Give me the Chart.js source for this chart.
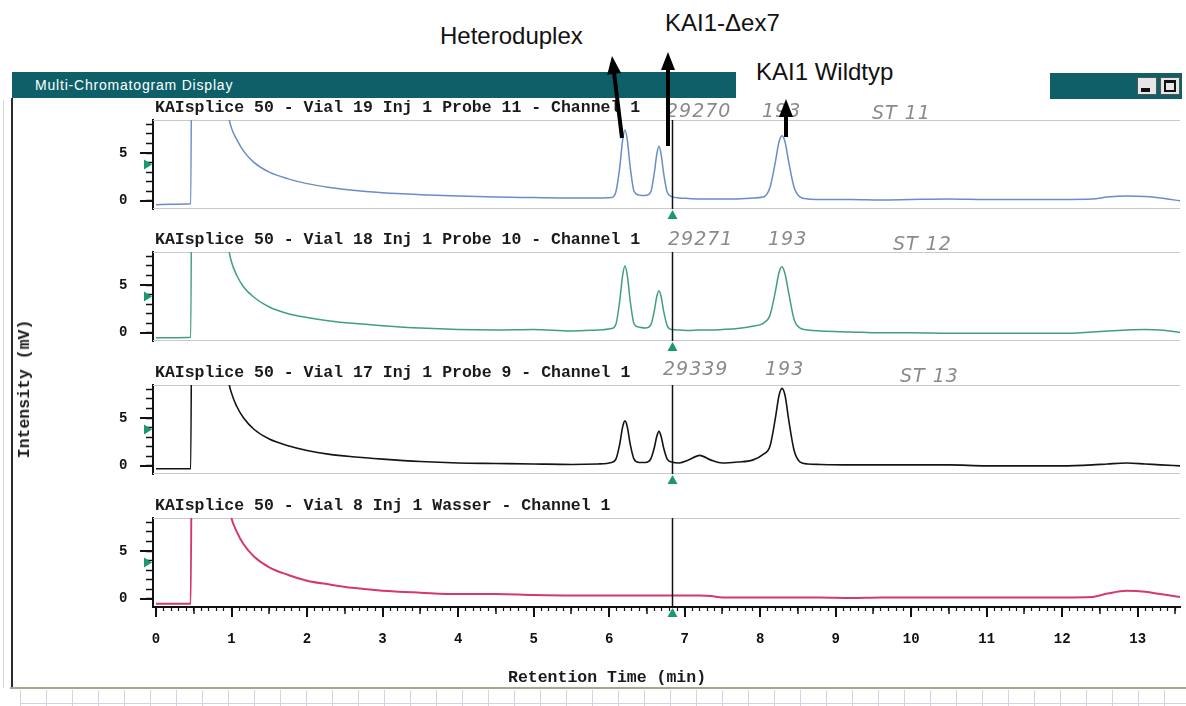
<!DOCTYPE html>
<html lang="de">
<head>
<meta charset="utf-8">
<title>Multi-Chromatogram Display</title>
<script src="https://cdn.jsdelivr.net/npm/chart.js@4.4.1/dist/chart.umd.min.js"></script>
<style>
  html, body { margin: 0; padding: 0; background: #fff; }
  #app { position: relative; width: 1186px; height: 706px; overflow: hidden; background: #fff; }
  #app canvas, #app .txt, #app .box { position: absolute; }
  .mono { font-family: "Liberation Mono", "DejaVu Sans Mono", monospace; font-weight: bold; color: #1a1a1a; font-size: 16.5px; line-height: 20px; white-space: nowrap; }
  .label { font-family: "Liberation Sans", Arial, sans-serif; font-size: 24px; line-height: 28px; color: #111; white-space: nowrap; }
  .hand { font-family: "DejaVu Sans", sans-serif; font-weight: 200; font-style: italic; color: #8a8a8a; font-size: 19px; line-height: 22px; letter-spacing: 1px; white-space: nowrap; }
</style>
</head>
<body>
<div id="app"></div>
<script>
// temps de rétention (min), communs aux quatre chromatogrammes
const retentionTimes = [
  0, 0.2, 0.46, 0.48, 0.75, 0.96, 1.0, 1.07, 1.16, 1.3, 1.5, 1.75, 2.0, 2.3, 2.6, 3.0, 3.5, 4.0, 4.5, 5.0, 5.5, 5.85,
  6.03, 6.09, 6.14, 6.18, 6.21, 6.24, 6.28, 6.33, 6.4, 6.48, 6.55, 6.6, 6.63, 6.66, 6.69, 6.72, 6.77, 6.83, 6.93, 7.05, 7.2, 7.35, 7.5, 7.7, 7.9,
  8.04, 8.13, 8.2, 8.25, 8.29, 8.33, 8.38, 8.45, 8.53, 8.63, 8.8, 9.2, 9.6, 10.0, 10.5, 11.0, 11.5, 12.0, 12.4, 12.6, 12.85, 13.1, 13.3, 13.56
]

// intensités (mV)
const probe11 = [
  -0.4, -0.35, -0.3, 30, 30, 9.0, 7.6, 6.4, 5.2, 4.0, 3.0, 2.3, 1.8, 1.4, 1.1, 0.85, 0.65, 0.5, 0.4, 0.35, 0.3, 0.3,
  0.35, 0.95, 3.45, 6.4, 7.4, 6.4, 3.5, 1.0, 0.6, 0.55, 0.9, 3.0, 4.8, 5.7, 4.8, 3.0, 0.9, 0.45, 0.3, 0.25, 0.2, 0.2, 0.2, 0.2, 0.3,
  0.4, 1.4, 4.0, 6.15, 6.8, 6.15, 4.0, 1.4, 0.4, 0.2, 0.15, 0.15, 0.1, 0.15, 0.2, 0.15, 0.15, 0.15, 0.2, 0.4, 0.5, 0.45, 0.3, 0.0
]
const probe10 = [
  -0.5, -0.5, -0.45, 30, 30, 9.0, 7.4, 6.0, 4.8, 3.7, 2.7, 2.0, 1.6, 1.25, 1.0, 0.75, 0.5, 0.35, 0.3, 0.35, 0.2, 0.3,
  0.45, 0.9, 3.3, 6.05, 7.0, 6.05, 3.3, 0.95, 0.6, 0.5, 0.8, 2.35, 3.75, 4.4, 3.75, 2.35, 0.75, 0.35, 0.3, 0.25, 0.3, 0.3, 0.35, 0.45, 0.7,
  1.0, 1.85, 4.25, 6.3, 6.9, 6.15, 4.1, 1.4, 0.5, 0.3, 0.2, 0.1, 0.0, 0.0, -0.05, -0.05, -0.05, -0.05, 0.1, 0.2, 0.3, 0.35, 0.3, 0.05
]
const probe9 = [
  -0.3, -0.3, -0.3, 30, 30, 9.0, 7.6, 6.2, 5.0, 3.8, 2.8, 2.1, 1.6, 1.2, 0.95, 0.7, 0.45, 0.3, 0.25, 0.2, 0.15, 0.2,
  0.35, 0.7, 2.25, 4.1, 4.7, 4.1, 2.25, 0.7, 0.35, 0.35, 0.7, 1.95, 3.05, 3.6, 3.05, 1.95, 0.7, 0.4, 0.3, 0.6, 1.1, 0.6, 0.3, 0.4, 0.6,
  1.2, 2.05, 4.9, 7.35, 8.1, 7.35, 4.7, 1.6, 0.4, 0.2, 0.15, 0.1, 0.1, 0.1, 0.1, 0.0, 0.0, 0.0, 0.1, 0.2, 0.3, 0.2, 0.1, 0.0
]
const wasser = [
  -0.5, -0.5, -0.5, 30, 30, 10.0, 8.4, 7.0, 5.7, 4.4, 3.3, 2.5, 1.9, 1.5, 1.15, 0.85, 0.65, 0.5, 0.5, 0.4, 0.35, 0.35,
  0.35, 0.35, 0.35, 0.35, 0.35, 0.35, 0.35, 0.35, 0.35, 0.35, 0.35, 0.35, 0.35, 0.35, 0.35, 0.35, 0.35, 0.35, 0.35, 0.35, 0.35, 0.3, 0.15, 0.15, 0.15,
  0.15, 0.15, 0.15, 0.15, 0.15, 0.15, 0.15, 0.15, 0.15, 0.15, 0.15, 0.1, 0.15, 0.15, 0.15, 0.15, 0.15, 0.15, 0.2, 0.55, 0.85, 0.75, 0.5, 0.2
]

const panelTitles = [
  'KAIsplice 50 - Vial 19 Inj 1 Probe 11 - Channel 1',
  'KAIsplice 50 - Vial 18 Inj 1 Probe 10 - Channel 1',
  'KAIsplice 50 - Vial 17 Inj 1 Probe 9 - Channel 1',
  'KAIsplice 50 - Vial 8 Inj 1 Wasser - Channel 1'
]
const sampleNotes = [
  ['29270', '193', 'ST 11'],
  ['29271', '193', 'ST 12'],
  ['29339', '193', 'ST 13']
]
const peakLabels = ['Heteroduplex', 'KAI1-\u0394ex7', 'KAI1 Wildtyp']
const xLabelValues = [0, 1, 2, 3, 4, 5, 6, 7, 8, 9, 10, 11, 12, 13]
const yTickValues = [0, 1, 2, 3, 4, 5, 6, 7, 8]
const yLabelValues = [0, 5]
const cursorTime = 6.83
const markerLevel = 3.8

const app = document.getElementById('app')

const addBox = (left, top, width, height, css) => {
  const div = document.createElement('div')
  div.classList.add('box')
  div.style.cssText += `left:${left}px;top:${top}px;width:${width}px;height:${height}px;${css || ''}`
  app.append(div)
  return div
}

const addText = (text, cls, left, top, css) => {
  const div = document.createElement('div')
  div.classList.add('txt', cls)
  div.textContent = text
  div.style.cssText += `left:${left}px;top:${top}px;${css || ''}`
  app.append(div)
  return div
}

// cadre de la fenêtre
addBox(12, 72, 724, 26, 'background:#0e5f68')
addBox(1050, 73, 132, 26, 'background:#0e5f68')
addBox(1137, 77, 20, 18, 'background:#e6e6e6;border:1px solid #555;box-sizing:border-box')
addBox(1141, 88, 9, 4, 'background:#111')
addBox(1160, 77, 20, 18, 'background:#e6e6e6;border:1px solid #555;box-sizing:border-box')
addBox(1164, 80, 12, 12, 'border:2px solid #111;border-top-width:3px;box-sizing:border-box')
addText('Multi-Chromatogram Display', 'txt', 35, 77, 'font:14px "Liberation Sans",Arial,sans-serif;letter-spacing:0.8px;color:#fff;line-height:16px')
addBox(11, 98, 2, 590, 'background:#2b2b2b')
addBox(3, 100, 1, 588, 'background:#d8d8d8')
addBox(10, 687, 1176, 2, 'background:#aaa492')
addBox(20, 690, 1166, 16, 'background:repeating-linear-gradient(to right,#d6d0e6 0 1px,transparent 1px 26px)')
addBox(20, 703, 1166, 1, 'background:#d6d0e6')

const monoFont = size => ({ family: '"Liberation Mono", "DejaVu Sans Mono", monospace', weight: 'bold', size })

// lignes du cadre, curseur, triangles verts et graduations longues
const decor = {
  id: 'decor',
  beforeDatasetsDraw(chart, args, opts) {
    const { ctx, chartArea: a } = chart
    ctx.save()
    ctx.strokeStyle = '#c9c9c9'
    ctx.lineWidth = 1
    ctx.beginPath()
    ctx.moveTo(a.left, a.top + 0.5)
    ctx.lineTo(a.right, a.top + 0.5)
    if (!opts.axis) {
      ctx.moveTo(a.left, a.bottom - 0.5)
      ctx.lineTo(a.right, a.bottom - 0.5)
    }
    ctx.stroke()
    ctx.restore()
  },
  afterDatasetsDraw(chart, args, opts) {
    const { ctx, chartArea: a, scales: { x, y } } = chart
    ctx.save()
    ctx.strokeStyle = '#111'
    ctx.lineWidth = 2
    yLabelValues.forEach(v => {
      const py = Math.round(y.getPixelForValue(v))
      ctx.beginPath()
      ctx.moveTo(a.left - 13, py)
      ctx.lineTo(a.left, py)
      ctx.stroke()
    })
    if (opts.axis) {
      for (let k = 0; k / 10 <= x.max; k += 5) {
        const px = Math.round(x.getPixelForValue(k / 10))
        ctx.lineWidth = k % 10 === 0 ? 2 : 1.5
        ctx.beginPath()
        ctx.moveTo(px, a.bottom)
        ctx.lineTo(px, a.bottom + (k % 10 === 0 ? 10 : 7))
        ctx.stroke()
      }
    }
    const cx = Math.round(x.getPixelForValue(cursorTime)) + 0.5
    ctx.lineWidth = 1.5
    ctx.beginPath()
    ctx.moveTo(cx, a.top)
    ctx.lineTo(cx, a.bottom)
    ctx.stroke()

    ctx.fillStyle = '#1a9a6c'
    ctx.beginPath()
    ctx.moveTo(cx, a.bottom + 1)
    ctx.lineTo(cx + 5, a.bottom + 10)
    ctx.lineTo(cx - 5, a.bottom + 10)
    ctx.closePath()
    ctx.fill()

    const my = y.getPixelForValue(markerLevel)
    ctx.beginPath()
    ctx.moveTo(a.left - 1, my)
    ctx.lineTo(a.left - 9, my - 5)
    ctx.lineTo(a.left - 9, my + 5)
    ctx.closePath()
    ctx.fill()
    ctx.restore()
  }
}

const panels = [
  { values: probe11, color: '#6b8bcb', width: 1.5 },
  { values: probe10, color: '#3f9f80', width: 1.5 },
  { values: probe9, color: '#141414', width: 1.6 },
  { values: wasser, color: '#d5396b', width: 2 }
]
const panelTops = [120, 252, 385, 518]

panels.forEach((panel, index) => {
  const isLast = index === panels.length - 1
  const top = panelTops[index]

  // un peu plus large que la fenêtre : la marge droite de l'axe X déborde
  const canvas = document.createElement('canvas')
  canvas.width = 1200
  canvas.height = isLast ? 706 - (top - 10) : 113
  canvas.style.left = '0px'
  canvas.style.top = (top - 10) + 'px'
  app.append(canvas)

  new Chart(canvas.getContext('2d'), {
    type: 'line',
    data: {
      datasets: [{
        data: retentionTimes.map((t, i) => ({ x: t, y: panel.values[i] })),
        borderColor: panel.color,
        borderWidth: panel.width,
        pointRadius: 0,
        cubicInterpolationMode: 'monotone',
        fill: false
      }]
    },
    options: {
      responsive: false,
      animation: false,
      devicePixelRatio: 1,
      layout: { padding: { left: 119, right: 20, top: 10, bottom: isLast ? 0 : 14 } },
      plugins: {
        legend: { display: false },
        tooltip: { enabled: false },
        decor: { axis: isLast }
      },
      scales: {
        x: {
          type: 'linear',
          min: -0.04,
          max: 13.56,
          display: isLast,
          afterFit: scale => { if (isLast) scale.height = 99 },
          afterBuildTicks: scale => {
            scale.ticks = Array.from({ length: 136 }, (_, k) => ({ value: k / 10 }))
          },
          grid: { drawOnChartArea: false, tickLength: 4, tickWidth: 1.2, tickColor: '#111' },
          border: { color: '#111', width: 2 },
          ticks: {
            autoSkip: false,
            maxRotation: 0,
            padding: 20,
            color: '#111',
            font: monoFont(14),
            callback: v => xLabelValues.includes(v) ? String(v) : ''
          }
        },
        y: {
          min: -0.85,
          max: 8.45,
          afterFit: scale => { scale.width = 34 },
          afterBuildTicks: scale => {
            scale.ticks = yTickValues.map(v => ({ value: v }))
          },
          grid: { drawOnChartArea: false, tickLength: 7, tickWidth: 1.5, tickColor: '#111' },
          border: { color: '#111', width: 2 },
          ticks: {
            autoSkip: false,
            padding: 0,
            crossAlign: 'far',
            color: '#111',
            font: monoFont(14),
            callback: v => yLabelValues.includes(v) ? String(v) : ''
          }
        }
      }
    },
    plugins: [decor]
  })

  addText(panelTitles[index], 'mono', 155, top - 22)
})

// notes manuscrites à côté des titres
const notePositions = [
  [[666, 99], [762, 99], [872, 101]],
  [[668, 227], [768, 227], [893, 232]],
  [[663, 357], [765, 357], [900, 364]]
]
sampleNotes.forEach((notes, i) => {
  notes.forEach((note, j) => addText(note, 'hand', notePositions[i][j][0], notePositions[i][j][1]))
})

addText('Intensity (mV)', 'mono', 25, 389, 'transform:translate(-50%,-50%) rotate(-90deg)')
addText('Retention Time (min)', 'mono', 508, 668)

// étiquettes des pics et flèches
addText(peakLabels[0], 'label', 440, 22)
addText(peakLabels[1], 'label', 665, 9)
addText(peakLabels[2], 'label', 756, 58)

const svgNS = 'http://www.w3.org/2000/svg'
const svg = document.createElementNS(svgNS, 'svg')
svg.setAttribute('width', '1186')
svg.setAttribute('height', '706')
svg.style.cssText = 'position:absolute;left:0;top:0'
app.append(svg)

const arrows = [
  [622, 138, 612, 56],
  [668, 146, 668, 52],
  [786, 137, 786, 99]
]
arrows.forEach(([x1, y1, x2, y2]) => {
  const len = Math.hypot(x2 - x1, y2 - y1)
  const dx = (x2 - x1) / len
  const dy = (y2 - y1) / len
  const bx = x2 - dx * 18
  const by = y2 - dy * 18
  const line = document.createElementNS(svgNS, 'line')
  line.setAttribute('x1', x1)
  line.setAttribute('y1', y1)
  line.setAttribute('x2', bx + dx * 2)
  line.setAttribute('y2', by + dy * 2)
  line.setAttribute('stroke', '#000')
  line.setAttribute('stroke-width', '4')
  svg.append(line)
  const head = document.createElementNS(svgNS, 'polygon')
  head.setAttribute('points', `${x2},${y2} ${bx - dy * 7},${by + dx * 7} ${bx + dy * 7},${by - dx * 7}`)
  head.setAttribute('fill', '#000')
  svg.append(head)
})
</script>
</body>
</html>
